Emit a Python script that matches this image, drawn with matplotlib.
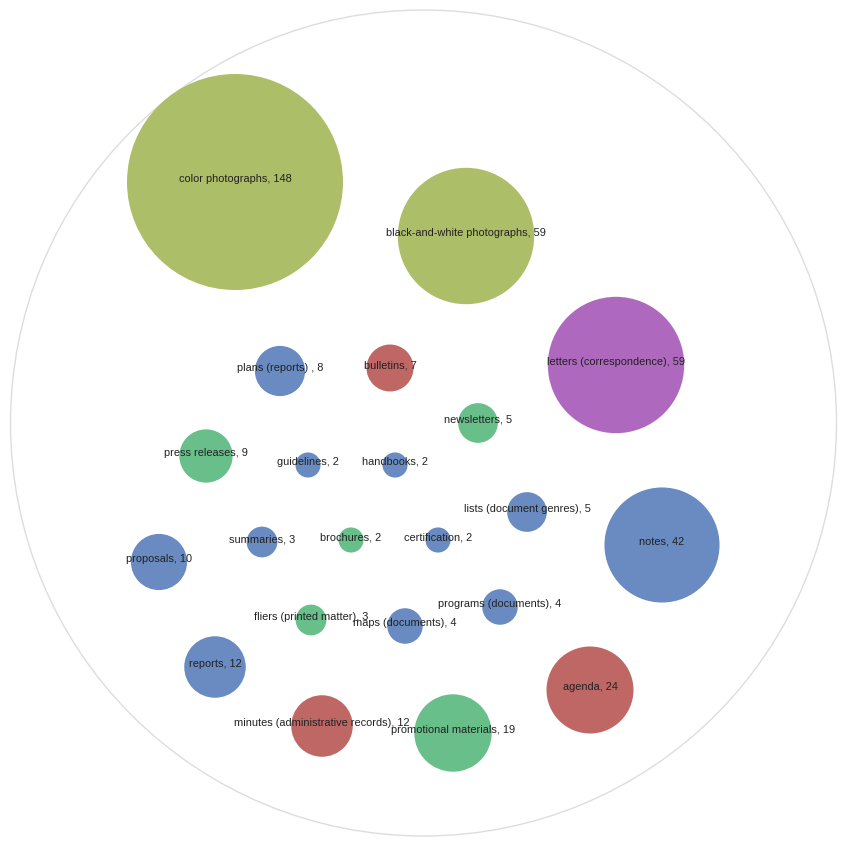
import matplotlib
matplotlib.use("Agg")
import matplotlib.pyplot as plt
from matplotlib.patches import Circle
import numpy as np

# Data
labels = [
    "color photographs", "black-and-white photographs", "letters (correspondence)",
    "plans (reports) ", "bulletins", "newsletters", "press releases", "guidelines",
    "handbooks", "lists (document genres)", "notes", "summaries", "brochures",
    "certification", "proposals", "programs (documents)", "fliers (printed matter)",
    "maps (documents)", "reports", "agenda", "minutes (administrative records)",
    "promotional materials",
]
values = [148, 59, 59, 8, 7, 5, 9, 2, 2, 5, 42, 3, 2, 2, 10, 4, 3, 4, 12, 24, 12, 19]
groups = ["photo", "photo", "letter", "doc", "event", "promo", "promo", "doc",
          "doc", "doc", "doc", "doc", "promo", "doc", "doc", "doc", "promo",
          "doc", "doc", "event", "event", "promo"]

# Layout (pack positions, pixel space)
pos_x = [235, 466, 616, 280, 390, 478, 206, 308, 395, 527, 662, 262, 351, 438,
         159, 500, 311, 405, 215, 590, 322, 453]
pos_y = [182, 236, 365, 371, 368, 423, 456, 465, 465, 512, 545, 542, 540, 540,
         562, 607, 620, 626, 667, 690, 726, 733]

colors = {"photo": "#adbe68", "letter": "#ae69be", "doc": "#698bc1",
          "event": "#bf6764", "promo": "#68bf8a"}

W = 847
fig = plt.figure(figsize=(W / 100, W / 100), dpi=100)
ax = fig.add_axes([0, 0, 1, 1])
ax.set_xlim(0, W)
ax.set_ylim(W, 0)
ax.set_aspect("equal")
ax.axis("off")

ax.add_patch(Circle((423.5, 423), 413, facecolor="none", edgecolor="#dddddd", lw=1))

scale = 108 / np.sqrt(148)
for lab, v, g, x, y in zip(labels, values, groups, pos_x, pos_y):
    r = scale * np.sqrt(v)
    ax.add_patch(Circle((x, y), r, facecolor=colors[g], edgecolor="none"))
    ax.text(x, y - 3, f"{lab}, {v}", ha="center", va="center", fontsize=7.9,
            color="#222222", family=["Liberation Sans", "DejaVu Sans"])

fig.savefig("out.png", dpi=100)
